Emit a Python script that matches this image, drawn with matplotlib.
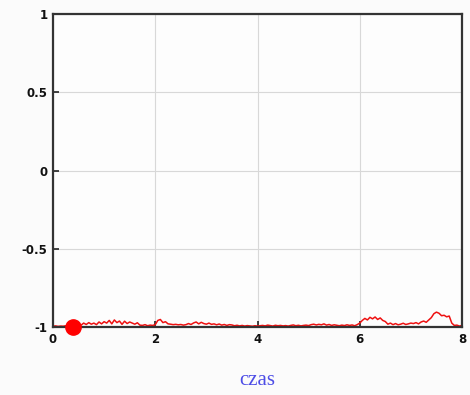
import numpy as np
import matplotlib
matplotlib.use("Agg")
import matplotlib.pyplot as plt

plt.rcParams['axes.unicode_minus'] = False

# time axis (step 0.05 s)
t = np.round(np.arange(0, 8.0001, 0.05), 2)
signal = [
    -0.995, -0.993, -0.996, -0.994, -0.995, -0.992, -0.995, -0.993, -0.994,
    -0.985, -0.978, -0.988, -0.975, -0.984, -0.972, -0.982, -0.975, -0.985, -0.968, -0.980, -0.966,
    -0.975, -0.958, -0.980, -0.955, -0.972, -0.962, -0.983, -0.963, -0.978, -0.968,
    -0.975, -0.982, -0.973, -0.988, -0.990, -0.985, -0.992, -0.988, -0.990, -0.985,
    -0.958, -0.952, -0.972, -0.966, -0.980, -0.982, -0.985, -0.983, -0.986, -0.984,
    -0.988, -0.985, -0.978, -0.984, -0.974, -0.968, -0.980, -0.970, -0.978, -0.982,
    -0.975, -0.983, -0.980, -0.986, -0.981, -0.988, -0.984, -0.990, -0.985, -0.987,
    -0.992, -0.989, -0.993, -0.990, -0.994, -0.991, -0.993, -0.995, -0.992, -0.994,
    -0.992, -0.990, -0.993, -0.988, -0.991, -0.994, -0.989, -0.992, -0.990, -0.993,
    -0.991, -0.994, -0.990, -0.987, -0.992, -0.989, -0.993, -0.990, -0.988, -0.991,
    -0.985, -0.982, -0.987, -0.983, -0.986, -0.980, -0.988, -0.984, -0.990, -0.986,
    -0.989, -0.992, -0.988, -0.991, -0.986, -0.990, -0.987, -0.992, -0.985, -0.975,
    -0.958, -0.945, -0.955, -0.938, -0.948, -0.936, -0.952, -0.942, -0.958, -0.965,
    -0.982, -0.975, -0.985, -0.978, -0.986, -0.982, -0.976, -0.984, -0.980, -0.975,
    -0.978, -0.972, -0.980, -0.968, -0.962, -0.970, -0.955, -0.940, -0.915, -0.905,
    -0.912, -0.928, -0.925, -0.935, -0.930, -0.975, -0.990, -0.988, -0.994, -0.990,
]
marker_t = [0.4]
marker_y = [-1.0]

x_ticks = [0, 2, 4, 6, 8]
x_labels = ['0', '2', '4', '6', '8']
y_ticks = [-1, -0.5, 0, 0.5, 1]
y_labels = ['-1', '-0.5', '0', '0.5', '1']

fig = plt.figure(figsize=(4.70, 3.95), dpi=100, facecolor='#fbfbfb')
ax = fig.add_axes([53/470, 68/395, 409/470, 313/395])
ax.set_facecolor('#fdfdfd')

ax.plot(t, signal, color='#ee1111', linewidth=1.1, zorder=3)
ax.plot(marker_t, marker_y, 'o', color='#ff0000', markersize=11, zorder=5, clip_on=False)

ax.set_xlim(0, 8)
ax.set_ylim(-1, 1)
ax.set_xticks(x_ticks)
ax.set_xticklabels(x_labels)
ax.set_yticks(y_ticks)
ax.set_yticklabels(y_labels)
ax.grid(True, color='#d8d8d8', linewidth=0.8)
ax.set_axisbelow(True)
ax.tick_params(direction='in', length=4, width=1.2, color='#222222',
               labelsize=8.5, labelcolor='#111111', pad=4)
for lab in ax.get_xticklabels() + ax.get_yticklabels():
    lab.set_fontweight('semibold')
for s in ax.spines.values():
    s.set_color('#333333')
    s.set_linewidth(1.6)
    s.set_zorder(4)

ax.set_xlabel('czas', family='Liberation Serif', fontsize=15, color='#4d4de6', labelpad=18)

fig.savefig('out.png', dpi=100, facecolor=fig.get_facecolor())
